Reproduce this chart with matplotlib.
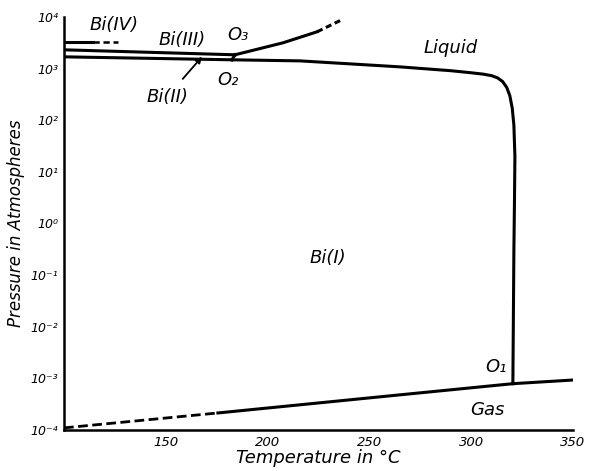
import numpy as np
import matplotlib
matplotlib.use("Agg")
import matplotlib.pyplot as plt

plt.rcParams['font.family'] = ['DejaVu Sans']

# phase boundaries (temperature in C, pressure in atm)
melt_t = [182.5, 216, 265, 290, 300, 306, 310, 313, 315.5, 317.5, 319, 320.2,
          321, 321.5, 321.3, 321, 320.5]
melt_p = [1480, 1410, 1080, 910, 830, 780, 730, 660, 560, 430, 300, 170,
          80, 20, 3.0, 0.3, 7.9e-4]

bi12_t = [100, 182.5]
bi12_p = [1690, 1480]

bi23_t = [100, 184]
bi23_p = [2310, 1850]

o2o3_t = [182.5, 184]
o2o3_p = [1480, 1850]

bi3liq_t = [184, 207.6, 224.3]
bi3liq_p = [1850, 3160, 5160]
bi3liq_dash_t = [224.3, 236.5]
bi3liq_dash_p = [5160, 8830]

bi34_t = [100, 114]
bi34_p = [3310, 3310]
bi34_dash_t = [114, 126.5]
bi34_dash_p = [3310, 3310]

gas_dash_t = [100, 175.6]
gas_dash_p = [1.1e-4, 2.14e-4]
gas_t = [175.6, 265, 320.5, 350]
gas_p = [2.14e-4, 4.8e-4, 7.9e-4, 9.3e-4]

xticks = [150, 200, 250, 300, 350]
yticks = [1e-4, 1e-3, 1e-2, 1e-1, 1e0, 1e1, 1e2, 1e3, 1e4]
ytick_labels = ["10\u207b\u2074", "10\u207b\u00b3", "10\u207b\u00b2", "10\u207b\u00b9",
                "10\u2070", "10\u00b9", "10\u00b2", "10\u00b3", "10\u2074"]

fig = plt.figure(figsize=(5.89, 4.71), dpi=100)
ax = fig.add_axes([0.1087, 0.087, 0.864, 0.877])

lw = 2.2
ax.plot(melt_t, melt_p, color='black', lw=lw, solid_joinstyle='round')
ax.plot(bi12_t, bi12_p, color='black', lw=lw)
ax.plot(bi23_t, bi23_p, color='black', lw=lw)
ax.plot(o2o3_t, o2o3_p, color='black', lw=lw)
ax.plot(bi3liq_t, bi3liq_p, color='black', lw=lw)
ax.plot(bi3liq_dash_t, bi3liq_dash_p, color='black', lw=lw, dashes=(2, 1.2))
ax.plot(bi34_t, bi34_p, color='black', lw=lw)
ax.plot(bi34_dash_t, bi34_dash_p, color='black', lw=lw - 0.4, dashes=(2.5, 1.5))
ax.plot(gas_dash_t, gas_dash_p, color='black', lw=lw - 0.2, dashes=(3.5, 1.6))
ax.plot(gas_t, gas_p, color='black', lw=lw)

ax.set_yscale('log')
ax.set_xlim(100, 350)
ax.set_ylim(1e-4, 1e4)

for s in ['top', 'right']:
    ax.spines[s].set_visible(False)
for s in ['left', 'bottom']:
    ax.spines[s].set_linewidth(1.8)

ax.set_xticks(xticks)
ax.set_xticklabels([str(t) for t in xticks], fontstyle='italic', fontsize=9.5)
ax.set_yticks(yticks)
ax.set_yticklabels(ytick_labels, fontstyle='italic', fontsize=9)
ax.minorticks_off()
ax.tick_params(length=0, pad=4)

ax.set_xlabel("Temperature in \u00b0C", fontstyle='italic', fontsize=13, labelpad=0)
ax.set_ylabel("Pressure in Atmospheres", fontstyle='italic', fontsize=12, labelpad=4)

kw = dict(fontstyle='italic', fontsize=13, ha='center', va='center')
ax.text(124.6, 7100, "Bi(IV)", **kw)
ax.text(158, 3630, "Bi(III)", **kw)
ax.text(185.5, 4470, "O\u2083", **kw)
ax.text(180.5, 600, "O\u2082", **kw)
ax.text(290, 2510, "Liquid", **kw)
ax.text(229.7, 0.214, "Bi(I)", **kw)
ax.text(312, 1.66e-3, "O\u2081", **kw)
ax.text(308, 2.45e-4, "Gas", **kw)
ax.annotate("Bi(II)", xy=(167.8, 1700), xytext=(150.6, 282),
            fontstyle='italic', fontsize=13, ha='center', va='center',
            arrowprops=dict(arrowstyle='-|>', color='black', lw=1.3,
                            mutation_scale=9, shrinkA=6, shrinkB=0))

fig.savefig("out.png", dpi=100)
